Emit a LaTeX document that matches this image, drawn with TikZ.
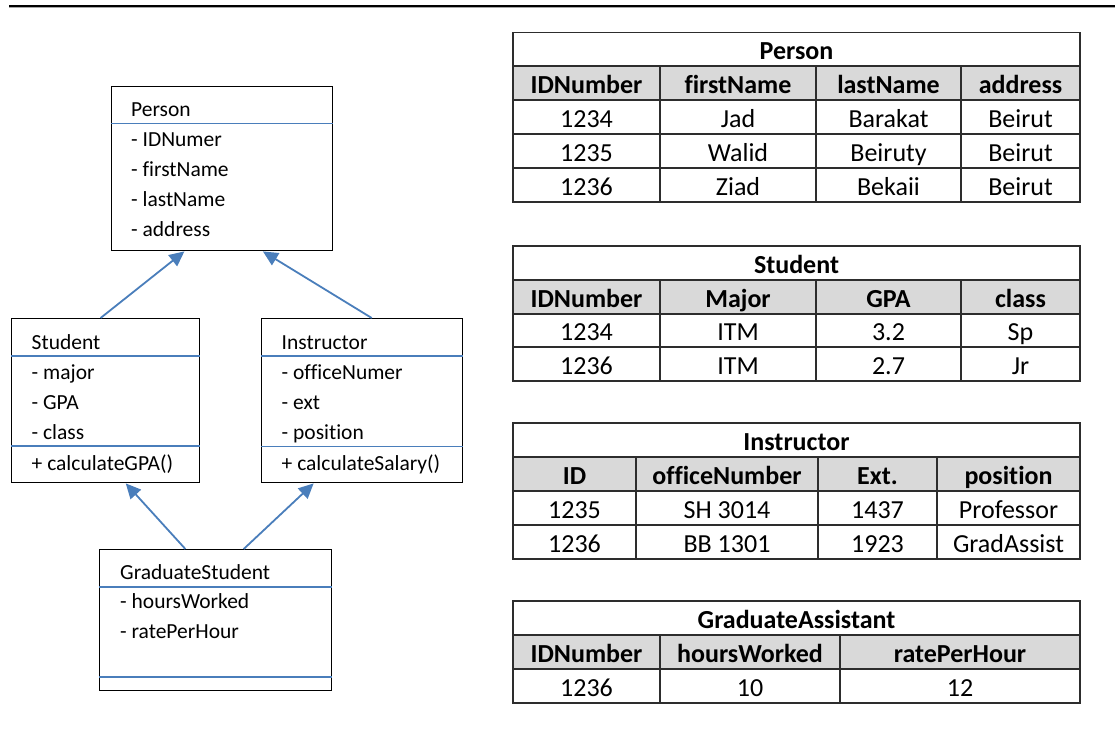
\documentclass[tikz,border=0pt]{standalone}
\usepackage{fontspec}
\setmainfont{Carlito}[Ligatures=NoCommon]
\usepackage{tikz}
\usetikzlibrary{arrows.meta, positioning, calc}
\usepackage{xcolor}
\definecolor{umlblue}{RGB}{74,126,187}
\definecolor{headgray}{RGB}{217,217,217}
\definecolor{tabline}{RGB}{45,45,45}
\tikzset{
  umlbox/.style={rectangle, draw=black, line width=1.4pt, inner sep=0pt, anchor=north west},
  umltext/.style={anchor=base west, inner sep=0pt, font=\fontsize{21.5}{26}\selectfont},
  sepline/.style={draw=umlblue, line width=1.6pt},
  inherit/.style={draw=umlblue, line width=1.8pt, -{Triangle[length=15pt, width=14pt]}},
  cell/.style={rectangle, draw=tabline, line width=1.2pt, inner sep=0pt,
               minimum height=34pt, text height=21pt, text depth=1pt,
               font=\fontsize{26}{30}\selectfont},
  headcell/.style={cell, fill=headgray, font=\fontsize{26}{30}\selectfont\bfseries},
  titlecell/.style={cell, font=\fontsize{26}{30}\selectfont\bfseries},
}

\begin{document}
\begin{tikzpicture}[x=1pt, y=-1pt]
    \useasboundingbox (0,0) rectangle (1115,736);
    % Top rule
    \draw[black, line width=1.8pt] (9,6) -- (1115,6);
    \draw[black!35, line width=0.8pt] (9,7.6) -- (1115,7.6);

    % Class boxes
    \node[umlbox, minimum width=221pt, minimum height=164pt] (person) at (111,86) {};
    \node[umlbox, minimum width=188pt, minimum height=164pt] (student) at (11,318) {};
    \node[umlbox, minimum width=201pt, minimum height=164pt] (instructor) at (261,318) {};
    \node[umlbox, minimum width=232pt, minimum height=141pt] (gradstudent) at (99,549) {};

    % Compartment lines
    \draw[sepline] ([yshift=-37.5pt]person.north west) -- ([yshift=-37.5pt]person.north east);
    \draw[sepline] ([yshift=-38pt]student.north west) -- ([yshift=-38pt]student.north east);
    \draw[sepline] ([yshift=-128pt]student.north west) -- ([yshift=-128pt]student.north east);
    \draw[sepline] ([yshift=-38pt]instructor.north west) -- ([yshift=-38pt]instructor.north east);
    \draw[sepline] ([yshift=-128.5pt]instructor.north west) -- ([yshift=-128.5pt]instructor.north east);
    \draw[sepline] ([yshift=-37.7pt]gradstudent.north west) -- ([yshift=-37.7pt]gradstudent.north east);
    \draw[sepline] ([yshift=-128pt]gradstudent.north west) -- ([yshift=-128pt]gradstudent.north east);

    % Person members
    \node[umltext] (pname) at (131,116) {Person};
    \node[umltext] (pid) at (131,146) {- IDNumer};
    \node[umltext] (pfirst) at (131,176) {- firstName};
    \node[umltext] (plast) at (131,206) {- lastName};
    \node[umltext] (paddr) at (131,236) {- address};
    % Student members
    \node[umltext] (sname) at (31.5,349) {Student};
    \node[umltext] (smajor) at (31.5,379) {- major};
    \node[umltext] (sgpa) at (31.5,409) {- GPA};
    \node[umltext] (sclass) at (31.5,439) {- class};
    \node[umltext] (scalc) at (31.5,470.5) {+ calculateGPA()};
    % Instructor members
    \node[umltext] (iname) at (281.5,349) {Instructor};
    \node[umltext] (ioffice) at (281.5,379) {- officeNumer};
    \node[umltext] (iext) at (281.5,409) {- ext};
    \node[umltext] (ipos) at (281.5,439) {- position};
    \node[umltext] (icalc) at (281.5,470.5) {+ calculateSalary()};
    % GraduateStudent members
    \node[umltext] (gname) at (120,579) {GraduateStudent};
    \node[umltext] (ghours) at (120,608.5) {- hoursWorked};
    \node[umltext] (grate) at (120,638.5) {- ratePerHour};

    % Inheritance
    \draw[inherit] ($(student.north west)!0.473!(student.north east)$)
        -- ($(person.south west)!0.33!(person.south east)$);
    \draw[inherit] ($(instructor.north west)!0.547!(instructor.north east)$)
        -- ($(person.south west)!0.683!(person.south east)$);
    \draw[inherit] ($(gradstudent.north west)!0.37!(gradstudent.north east)$)
        -- ($(student.south west)!0.606!(student.south east)$);
    \draw[inherit] ($(gradstudent.north west)!0.62!(gradstudent.north east)$)
        -- ($(instructor.south west)!0.26!(instructor.south east)$);

    % Table Person
    \node[titlecell, minimum width=567pt] (tp) at (796.5,49.5) {Person};
    \node[headcell, minimum width=147pt] (tp11) at (586.5,83) {IDNumber};
    \node[headcell, minimum width=156pt] (tp12) at (738,83) {firstName};
    \node[headcell, minimum width=145pt] (tp13) at (888.5,83) {lastName};
    \node[headcell, minimum width=119pt] (tp14) at (1020.5,83) {address};
    \node[cell, minimum width=147pt] (tp21) at (586.5,117) {1234};
    \node[cell, minimum width=156pt] (tp22) at (738,117) {Jad};
    \node[cell, minimum width=145pt] (tp23) at (888.5,117) {Barakat};
    \node[cell, minimum width=119pt] (tp24) at (1020.5,117) {Beirut};
    \node[cell, minimum width=147pt] (tp31) at (586.5,151) {1235};
    \node[cell, minimum width=156pt] (tp32) at (738,151) {Walid};
    \node[cell, minimum width=145pt] (tp33) at (888.5,151) {Beiruty};
    \node[cell, minimum width=119pt] (tp34) at (1020.5,151) {Beirut};
    \node[cell, minimum width=147pt] (tp41) at (586.5,185) {1236};
    \node[cell, minimum width=156pt] (tp42) at (738,185) {Ziad};
    \node[cell, minimum width=145pt] (tp43) at (888.5,185) {Bekaii};
    \node[cell, minimum width=119pt] (tp44) at (1020.5,185) {Beirut};

    % Table Student
    \node[titlecell, minimum width=567pt] (ts) at (796.5,263) {Student};
    \node[headcell, minimum width=147pt] (ts11) at (586.5,297) {IDNumber};
    \node[headcell, minimum width=156pt] (ts12) at (738,297) {Major};
    \node[headcell, minimum width=145pt] (ts13) at (888.5,297) {GPA};
    \node[headcell, minimum width=119pt] (ts14) at (1020.5,297) {class};
    \node[cell, minimum width=147pt] (ts21) at (586.5,330.5) {1234};
    \node[cell, minimum width=156pt] (ts22) at (738,330.5) {ITM};
    \node[cell, minimum width=145pt] (ts23) at (888.5,330.5) {3.2};
    \node[cell, minimum width=119pt] (ts24) at (1020.5,330.5) {Sp};
    \node[cell, minimum width=147pt] (ts31) at (586.5,364) {1236};
    \node[cell, minimum width=156pt] (ts32) at (738,364) {ITM};
    \node[cell, minimum width=145pt] (ts33) at (888.5,364) {2.7};
    \node[cell, minimum width=119pt] (ts34) at (1020.5,364) {Jr};

    % Table Instructor
    \node[titlecell, minimum width=567pt] (ti) at (796.5,440) {Instructor};
    \node[headcell, minimum width=123pt] (ti11) at (574.5,474) {ID};
    \node[headcell, minimum width=182pt] (ti12) at (727,474) {officeNumber};
    \node[headcell, minimum width=119pt] (ti13) at (877.5,474) {Ext.};
    \node[headcell, minimum width=143pt] (ti14) at (1008.5,474) {position};
    \node[cell, minimum width=123pt] (ti21) at (574.5,508) {1235};
    \node[cell, minimum width=182pt] (ti22) at (727,508) {SH 3014};
    \node[cell, minimum width=119pt] (ti23) at (877.5,508) {1437};
    \node[cell, minimum width=143pt] (ti24) at (1008.5,508) {Professor};
    \node[cell, minimum width=123pt] (ti31) at (574.5,542) {1236};
    \node[cell, minimum width=182pt] (ti32) at (727,542) {BB 1301};
    \node[cell, minimum width=119pt] (ti33) at (877.5,542) {1923};
    \node[cell, minimum width=143pt] (ti34) at (1008.5,542) {GradAssist};

    % Table GraduateAssistant
    \node[titlecell, minimum width=567pt] (tg) at (796.5,618) {GraduateAssistant};
    \node[headcell, minimum width=147pt] (tg11) at (586.5,652) {IDNumber};
    \node[headcell, minimum width=180pt] (tg12) at (750,652) {hoursWorked};
    \node[headcell, minimum width=240pt] (tg13) at (960,652) {ratePerHour};
    \node[cell, minimum width=147pt] (tg21) at (586.5,686) {1236};
    \node[cell, minimum width=180pt] (tg22) at (750,686) {10};
    \node[cell, minimum width=240pt] (tg23) at (960,686) {12};
\end{tikzpicture}
\end{document}
